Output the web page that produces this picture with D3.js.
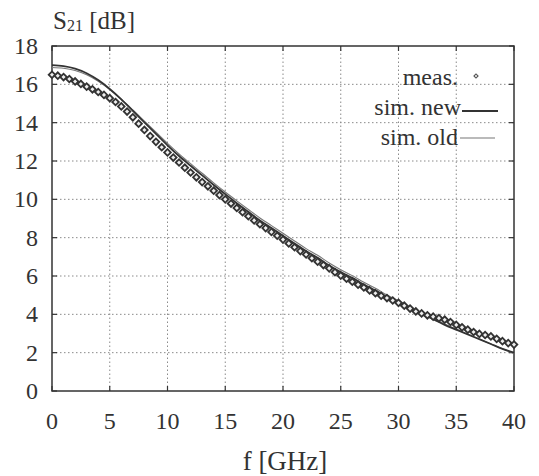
<!DOCTYPE html>
<html>
<head>
<meta charset="utf-8">
<script src="https://cdn.jsdelivr.net/npm/d3@7"></script>
<style>
  body { margin: 0; background: #fff; }
  svg text { font-family: "Liberation Serif", "DejaVu Serif", serif; fill: #333; }
</style>
</head>
<body>
<div id="chart"></div>
<script>
// measured S21, 0.5 GHz steps
const measFreq = d3.range(0, 40.01, 0.5);
const measS21 = [
  16.50, 16.45, 16.38, 16.28, 16.15, 16.02, 15.88, 15.74, 15.60, 15.45,
  15.28, 15.08, 14.85, 14.58, 14.28, 13.95, 13.62, 13.30, 13.00, 12.72,
  12.45, 12.18, 11.92, 11.65, 11.40, 11.15, 10.90, 10.68, 10.45, 10.22,
  10.00, 9.78, 9.55, 9.33, 9.12, 8.90, 8.70, 8.50, 8.30, 8.10,
  7.90, 7.70, 7.50, 7.30, 7.12, 6.93, 6.75, 6.57, 6.40, 6.20,
  6.02, 5.86, 5.70, 5.55, 5.40, 5.25, 5.10, 4.97, 4.85, 4.72,
  4.60, 4.45, 4.30, 4.15, 4.05, 3.95, 3.88, 3.80, 3.72, 3.60,
  3.45, 3.32, 3.20, 3.08, 2.98, 2.92, 2.85, 2.72, 2.60, 2.50,
  2.42
];

// simulations, 1 GHz steps
const simFreq = d3.range(0, 41, 1);
const simNew = [
  17.00, 16.95, 16.82, 16.58, 16.22, 15.76, 15.22, 14.62, 14.02, 13.42,
  12.82, 12.26, 11.75, 11.25, 10.75, 10.27, 9.80, 9.35, 8.90, 8.50,
  8.10, 7.70, 7.30, 6.95, 6.55, 6.20, 5.90, 5.55, 5.25, 4.90,
  4.60, 4.30, 4.00, 3.75, 3.45, 3.20, 2.95, 2.70, 2.45, 2.20,
  2.00
];
const simOld = [
  16.88, 16.84, 16.72, 16.50, 16.16, 15.73, 15.22, 14.66, 14.08, 13.50,
  12.92, 12.37, 11.86, 11.36, 10.86, 10.38, 9.92, 9.47, 9.03, 8.63,
  8.23, 7.83, 7.43, 7.08, 6.68, 6.33, 6.02, 5.67, 5.36, 5.01,
  4.70, 4.38, 4.07, 3.80, 3.50, 3.23, 2.97, 2.71, 2.45, 2.20,
  1.96
];

const xTicks = [0, 5, 10, 15, 20, 25, 30, 35, 40];
const yTicks = [0, 2, 4, 6, 8, 10, 12, 14, 16, 18];
const legendLabels = ["meas.", "sim. new", "sim. old"];

const width = 539, height = 476;
const margin = { left: 52, right: 25, top: 46, bottom: 85 };

const svg = d3.select("#chart").append("svg")
  .attr("width", width)
  .attr("height", height);

const x = d3.scaleLinear().domain([0, 40]).range([margin.left, width - margin.right]);
const y = d3.scaleLinear().domain([0, 18]).range([height - margin.bottom, margin.top]);

// dotted grid
const grid = svg.append("g")
  .attr("stroke", "#8a8a8a")
  .attr("stroke-width", 1)
  .attr("stroke-dasharray", "1.5,2.5");
grid.selectAll(".gx").data(xTicks.slice(1, -1)).enter().append("line")
  .attr("x1", d => x(d)).attr("x2", d => x(d))
  .attr("y1", y(0)).attr("y2", y(18));
grid.selectAll(".gy").data(yTicks.slice(1, -1)).enter().append("line")
  .attr("x1", x(0)).attr("x2", x(40))
  .attr("y1", d => y(d)).attr("y2", d => y(d));

// inward ticks
const ticks = svg.append("g").attr("stroke", "#333").attr("stroke-width", 1.2);
yTicks.forEach(v => {
  ticks.append("line").attr("x1", x(0)).attr("x2", x(0) + 5).attr("y1", y(v)).attr("y2", y(v));
  ticks.append("line").attr("x1", x(40)).attr("x2", x(40) - 5).attr("y1", y(v)).attr("y2", y(v));
});
xTicks.forEach(v => {
  ticks.append("line").attr("x1", x(v)).attr("x2", x(v)).attr("y1", y(0)).attr("y2", y(0) - 5);
  ticks.append("line").attr("x1", x(v)).attr("x2", x(v)).attr("y1", y(18)).attr("y2", y(18) + 5);
});

// frame
svg.append("rect")
  .attr("x", x(0)).attr("y", y(18))
  .attr("width", x(40) - x(0)).attr("height", y(0) - y(18))
  .attr("fill", "none").attr("stroke", "#333").attr("stroke-width", 1.5);

// tick labels
svg.selectAll(".yl").data(yTicks).enter().append("text")
  .attr("x", 38).attr("y", d => y(d) + 8)
  .attr("text-anchor", "end")
  .attr("font-size", 24)
  .text(d => d);
svg.selectAll(".xl").data(xTicks).enter().append("text")
  .attr("x", d => x(d)).attr("y", 429)
  .attr("text-anchor", "middle")
  .attr("font-size", 24)
  .text(d => d);

// axis titles
const yt = svg.append("text").attr("x", 53).attr("y", 29).attr("font-size", 25);
yt.append("tspan").text("S");
yt.append("tspan").attr("font-size", 16).attr("dy", 2).text("21");
yt.append("tspan").attr("dy", -2).text(" [dB]");

svg.append("text")
  .attr("x", 285).attr("y", 470)
  .attr("text-anchor", "middle")
  .attr("font-size", 27)
  .text("f [GHz]");

// curves
const line = d3.line().curve(d3.curveMonotoneX)
  .x(d => x(d[0])).y(d => y(d[1]));

svg.append("path")
  .datum(simFreq.map((f, i) => [f, simOld[i]]))
  .attr("d", line)
  .attr("fill", "none").attr("stroke", "#777").attr("stroke-width", 1.1);

svg.append("path")
  .datum(simFreq.map((f, i) => [f, simNew[i]]))
  .attr("d", line)
  .attr("fill", "none").attr("stroke", "#333").attr("stroke-width", 1.8);

// measured markers
const marker = d3.symbol().type(d3.symbolSquare).size(22);
svg.append("g").selectAll("path")
  .data(measFreq.map((f, i) => [f, measS21[i]]))
  .enter().append("path")
  .attr("d", marker)
  .attr("transform", d => `translate(${x(d[0])},${y(d[1])}) rotate(45)`)
  .attr("fill", "#eee")
  .attr("stroke", "#333")
  .attr("stroke-width", 1.8);

// legend
const legendY = [85, 115, 145];
const lg = svg.append("g");
lg.selectAll("text").data(legendLabels).enter().append("text")
  .attr("x", (d, i) => i === 1 ? 461 : 458)
  .attr("y", (d, i) => legendY[i])
  .attr("text-anchor", "end")
  .attr("font-size", 24)
  .text(d => d);
lg.append("path")
  .attr("d", d3.symbol().type(d3.symbolSquare).size(8))
  .attr("transform", `translate(476,76) rotate(45)`)
  .attr("fill", "#fff").attr("stroke", "#555").attr("stroke-width", 1.2);
lg.append("line").attr("x1", 462).attr("x2", 498).attr("y1", 111).attr("y2", 111)
  .attr("stroke", "#333").attr("stroke-width", 1.8);
lg.append("line").attr("x1", 460).attr("x2", 495).attr("y1", 138).attr("y2", 138)
  .attr("stroke", "#777").attr("stroke-width", 1.1);
</script>
</body>
</html>
